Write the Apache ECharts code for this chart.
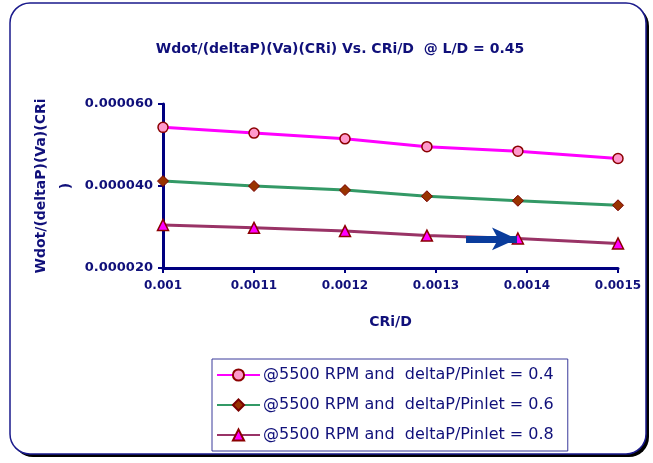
<!DOCTYPE html>
<html>
<head>
<meta charset="utf-8">
<script src="https://cdn.jsdelivr.net/npm/echarts@6/dist/echarts.min.js"></script>
<style>
  html, body { margin: 0; padding: 0; background: #ffffff; }
  #chart { width: 653px; height: 463px; }
</style>
</head>
<body>
<div id="chart"></div>
<script>
// Clearance ratio CRi/D at each measured point
const crid = [0.001, 0.0011, 0.0012, 0.00129, 0.00139, 0.0015];

// Wdot/(deltaP)(Va)(CRi) at 5500 RPM for three pressure ratios
const ratio04 = [0.0000543, 0.0000529, 0.0000515, 0.0000496, 0.0000485, 0.0000467];
const ratio06 = [0.0000412, 0.0000400, 0.0000390, 0.0000375, 0.0000364, 0.0000353];
const ratio08 = [0.0000305, 0.0000298, 0.0000290, 0.0000279, 0.0000272, 0.0000260];

const seriesNames = [
  '@5500 RPM and  deltaP/Pinlet = 0.4',
  '@5500 RPM and  deltaP/Pinlet = 0.6',
  '@5500 RPM and  deltaP/Pinlet = 0.8'
];

// Arrow annotation pointing along the 0.8 curve (data coordinates)
const arrowFrom = [0.001333, 0.0000271];
const arrowTo = [0.001389, 0.0000271];

const navy = '#10107a';
const font = 'DejaVu Sans';

function pairs(ys) {
  return crid.map((x, i) => [x, ys[i]]);
}

const chart = echarts.init(document.getElementById('chart'), null, { renderer: 'canvas' });

chart.setOption({
  backgroundColor: '#ffffff',
  animation: false,
  graphic: [
    {
      // drop shadow of the chart frame
      type: 'rect',
      z: -11,
      shape: { x: 13, y: 6, width: 636, height: 451, r: 20 },
      style: { fill: '#000000' }
    },
    {
      // chart frame
      type: 'rect',
      z: -10,
      shape: { x: 10, y: 3, width: 636, height: 451, r: 20 },
      style: { fill: '#ffffff', stroke: '#1a1a8c', lineWidth: 1.5 }
    }
  ],
  title: {
    text: 'Wdot/(deltaP)(Va)(CRi) Vs. CRi/D  @ L/D = 0.45',
    left: 335,
    top: 37,
    textAlign: 'center',
    textStyle: { fontFamily: font, fontSize: 14, fontWeight: 'bold', color: navy }
  },
  legend: {
    orient: 'vertical',
    left: 212,
    top: 359,
    padding: [8, 14, 8, 4],
    itemWidth: 43,
    itemHeight: 14,
    itemGap: 14,
    borderColor: '#3a3a9a',
    borderWidth: 1,
    backgroundColor: '#ffffff',
    textStyle: { fontFamily: font, fontSize: 16, color: navy, padding: [0, 0, 0, -2] },
    data: seriesNames
  },
  grid: { left: 163, right: 35, top: 104, bottom: 195, containLabel: false },
  xAxis: {
    type: 'value',
    min: 0.001,
    max: 0.0015,
    interval: 0.0001,
    name: 'CRi/D',
    nameLocation: 'middle',
    nameGap: 47,
    nameTextStyle: { fontFamily: font, fontSize: 14, fontWeight: 'bold', color: navy },
    axisLine: { lineStyle: { color: '#000080', width: 3 } },
    axisTick: { show: true, length: 5, lineStyle: { color: '#000080', width: 2 } },
    axisLabel: {
      margin: 12,
      fontFamily: font, fontSize: 12, fontWeight: 'bold', color: navy,
      formatter: v => String(parseFloat(v.toFixed(4)))
    },
    splitLine: { show: false }
  },
  yAxis: {
    type: 'value',
    min: 0.00002,
    max: 0.00006,
    interval: 0.00002,
    name: 'Wdot/(deltaP)(Va)(CRi\n)',
    nameLocation: 'middle',
    nameRotate: 90,
    nameGap: 84,
    nameMoveOverlap: false,
    nameTextStyle: { fontFamily: font, fontSize: 14, fontWeight: 'bold', color: navy, lineHeight: 25 },
    axisLine: { show: true, lineStyle: { color: '#000080', width: 3 } },
    axisTick: { show: true, length: 5, lineStyle: { color: '#000080', width: 2 } },
    axisLabel: {
      margin: 10,
      fontFamily: font, fontSize: 13, fontWeight: 'bold', color: navy,
      formatter: v => v.toFixed(6)
    },
    splitLine: { show: false }
  },
  series: [
    {
      name: seriesNames[0],
      type: 'line',
      data: pairs(ratio04),
      symbol: 'circle',
      symbolSize: 10,
      lineStyle: { color: '#ff00ff', width: 3 },
      itemStyle: { color: '#ff99cc', borderColor: '#8b0000', borderWidth: 1.5 }
    },
    {
      name: seriesNames[1],
      type: 'line',
      data: pairs(ratio06),
      symbol: 'diamond',
      symbolSize: 11,
      lineStyle: { color: '#339966', width: 3 },
      itemStyle: { color: '#993300', borderColor: '#7a0000', borderWidth: 1 }
    },
    {
      name: seriesNames[2],
      type: 'line',
      data: pairs(ratio08),
      symbol: 'triangle',
      symbolSize: 11,
      lineStyle: { color: '#993366', width: 3 },
      itemStyle: { color: '#ff00ff', borderColor: '#8b0000', borderWidth: 1.5 },
      markLine: {
        silent: true,
        symbol: ['none', 'arrow'],
        symbolSize: [17, 25],
        label: { show: false },
        lineStyle: { color: '#0a3c9c', width: 7, type: 'solid' },
        data: [[{ coord: arrowFrom }, { coord: arrowTo }]]
      }
    }
  ]
});
</script>
</body>
</html>
